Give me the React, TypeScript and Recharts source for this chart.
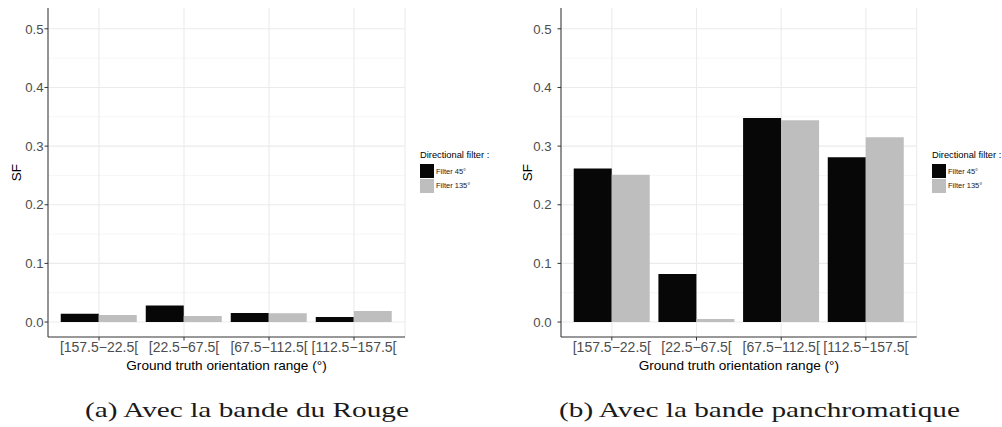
import React from 'react';
import { BarChart, Bar, XAxis, YAxis, CartesianGrid, Legend, Label } from 'recharts';

const categories = ['[157.5−22.5[', '[22.5−67.5[', '[67.5−112.5[', '[112.5−157.5['];
const rougeFilter45 = [0.014, 0.028, 0.0155, 0.0085];
const rougeFilter135 = [0.012, 0.0105, 0.015, 0.0187];
const panFilter45 = [0.262, 0.082, 0.348, 0.281];
const panFilter135 = [0.251, 0.005, 0.344, 0.315];
const yTicks = [0, 0.1, 0.2, 0.3, 0.4, 0.5];
const yMinorTicks = [0.05, 0.15, 0.25, 0.35, 0.45];
const yDomain = [-0.0255, 0.5355];
const seriesNames = ['Filter 45°', 'Filter 135°'];
const seriesColors = ['#070707', '#bebebe'];
const legendTitle = 'Directional filter :';
const xTitle = 'Ground truth orientation range (°)';
const yTitle = 'SF';
const captions = ['(a) Avec la bande du Rouge', '(b) Avec la bande panchromatique'];

const SANS = '"Liberation Sans", Arial, Helvetica, sans-serif';
const SERIF = '"Liberation Serif", "Times New Roman", serif';

const renderLegend = (props: any) => {
  const payload = [...(props.payload || [])].sort(
    (a: any, b: any) => seriesNames.indexOf(a.value) - seriesNames.indexOf(b.value)
  );
  return (
    <div style={{ fontFamily: SANS, lineHeight: 1.2, whiteSpace: 'nowrap' }}>
      <div style={{ fontSize: 9.3, color: '#000', height: 11.2, marginBottom: 2.8 }}>{legendTitle}</div>
      {payload.map((entry: any, i: number) => (
        <div key={i} style={{ display: 'flex', alignItems: 'center', height: 14.6 }}>
          <span style={{ display: 'inline-block', width: 14, height: 14, background: entry.color }} />
          <span style={{ fontSize: 7.5, color: '#1a1a1a', marginLeft: 2 }}>{entry.value}</span>
        </div>
      ))}
    </div>
  );
};

type PanelProps = {
  left: number;
  width: number;
  yAxisWidth: number;
  marginRight: number;
  yTickMargin: number;
  yTitleGap: number;
  s45: number[];
  s135: number[];
  legendLeft: number;
};

function Panel(p: PanelProps) {
  const data = categories.map((c, i) => ({ category: c, f45: p.s45[i], f135: p.s135[i] }));
  const yTitleContent = (props: any) => {
    const vb = props.viewBox || {};
    const x = vb.x + vb.width - p.yTitleGap;
    const y = 8 + (337 - 8) / 2;
    return (
      <text x={x} y={y} transform={`rotate(-90, ${x}, ${y})`} textAnchor="middle" fontSize={13.5} fontFamily={SANS} fill="#000">
        {yTitle}
      </text>
    );
  };
  return (
    <div style={{ position: 'absolute', left: p.left, top: 0, width: p.width, height: 380 }}>
      <BarChart
        width={p.width}
        height={380}
        data={data}
        margin={{ top: 8, right: p.marginRight, left: 0, bottom: 0 }}
        barCategoryGap="5%"
        barGap={0}
      >
        <CartesianGrid horizontalValues={yMinorTicks} vertical={false} stroke="#f0f0f0" strokeWidth={0.7} />
        <CartesianGrid horizontalValues={yTicks} stroke="#ebebeb" strokeWidth={1.1} />
        <XAxis
          dataKey="category"
          interval={0}
          padding={{ left: 8.5, right: 8.5 }}
          height={43}
          tickSize={3.5}
          tickMargin={1.5}
          axisLine={{ stroke: '#333333', strokeWidth: 1 }}
          tickLine={{ stroke: '#333333' }}
          tick={{ fill: '#4d4d4d', fontSize: 14, fontFamily: SANS }}
        >
          <Label value={xTitle} position="insideBottom" offset={10} fontSize={13.6} fontFamily={SANS} fill="#000" />
        </XAxis>
        <XAxis
          xAxisId="top"
          orientation="top"
          dataKey="category"
          height={0}
          padding={{ left: 8.5, right: 8.5 }}
          tick={false}
          tickLine={false}
          axisLine={{ stroke: '#333333', strokeWidth: 1 }}
        />
        <YAxis
          type="number"
          domain={yDomain}
          ticks={yTicks}
          allowDataOverflow
          width={p.yAxisWidth}
          tickSize={3.5}
          tickMargin={p.yTickMargin}
          tickFormatter={(v: number) => v.toFixed(1)}
          axisLine={{ stroke: '#333333', strokeWidth: 1 }}
          tickLine={{ stroke: '#333333' }}
          tick={{ fill: '#4d4d4d', fontSize: 13.2, fontFamily: SANS }}
        >
          <Label content={yTitleContent} />
        </YAxis>
        <YAxis
          yAxisId="right"
          orientation="right"
          type="number"
          domain={yDomain}
          allowDataOverflow
          width={0}
          tick={false}
          tickLine={false}
          axisLine={{ stroke: '#333333', strokeWidth: 1 }}
        />
        <Legend
          content={renderLegend}
          layout="vertical"
          align="center"
          verticalAlign="middle"
          wrapperStyle={{ left: p.legendLeft, top: 150, width: 120 }}
        />
        <Bar dataKey="f45" name={seriesNames[0]} fill={seriesColors[0]} isAnimationActive={false} />
        <Bar dataKey="f135" name={seriesNames[1]} fill={seriesColors[1]} isAnimationActive={false} />
      </BarChart>
    </div>
  );
}

export default function App() {
  return (
    <div style={{ position: 'absolute', left: 0, top: 0, width: 1002, height: 427, background: '#fff', overflow: 'hidden' }}>
      <Panel left={0} width={501} yAxisWidth={48} marginRight={96} yTickMargin={1} yTitleGap={27.3} s45={rougeFilter45} s135={rougeFilter135} legendLeft={420} />
      <Panel left={500} width={502} yAxisWidth={61} marginRight={85.3} yTickMargin={6} yTitleGap={29} s45={panFilter45} s135={panFilter135} legendLeft={432} />
      <svg width={1002} height={427} style={{ position: 'absolute', left: 0, top: 0, pointerEvents: 'none' }}>
        <text x={247} y={416.5} textAnchor="middle" fontFamily={SERIF} fontSize={22} fill="#1a1a1a" textLength={324} lengthAdjust="spacingAndGlyphs">
          {captions[0]}
        </text>
        <text x={759.5} y={416.5} textAnchor="middle" fontFamily={SERIF} fontSize={22} fill="#1a1a1a" textLength={401} lengthAdjust="spacingAndGlyphs">
          {captions[1]}
        </text>
      </svg>
    </div>
  );
}
